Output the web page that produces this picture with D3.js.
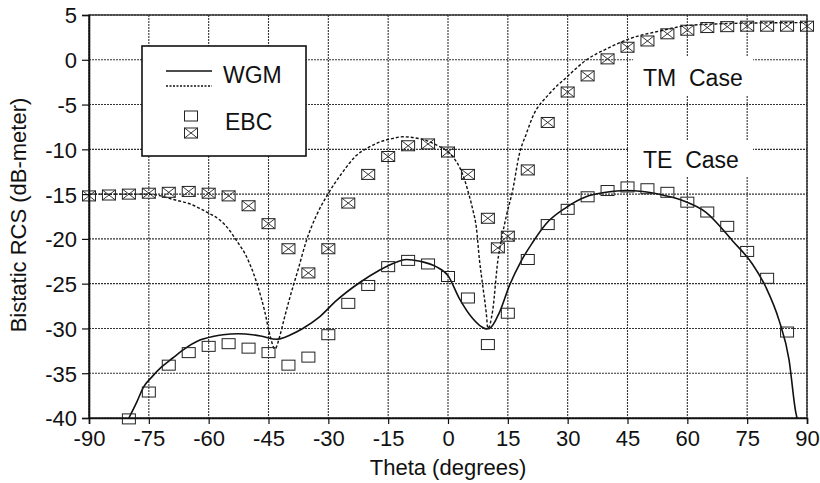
<!DOCTYPE html>
<html>
<head>
<meta charset="utf-8">
<script src="https://cdn.jsdelivr.net/npm/d3@7"></script>
<style>
  body { margin: 0; background: #fff; }
  svg { font-family: "Liberation Sans", Arial, sans-serif; }
</style>
</head>
<body>
<div id="chart"></div>
<script>
// tick values
const xTicks = [-90, -75, -60, -45, -30, -15, 0, 15, 30, 45, 60, 75, 90];
const yTicks = [5, 0, -5, -10, -15, -20, -25, -30, -35, -40];

// EBC, TM case (crossed boxes)
const ebcTmTheta = [-90, -85, -80, -75, -70, -65, -60, -55, -50, -45, -40, -35, -30, -25, -20, -15, -10, -5, 0, 5, 10, 12.5, 15, 20, 25, 30, 35, 40, 45, 50, 55, 60, 65, 70, 75, 80, 85, 90];
const ebcTmRcs = [-15.2, -15.1, -15.0, -14.9, -14.8, -14.7, -14.9, -15.2, -16.3, -18.3, -21.1, -23.8, -21.1, -16.0, -12.8, -10.8, -9.6, -9.4, -10.3, -12.8, -17.7, -21.0, -19.7, -12.3, -7.0, -3.6, -1.8, 0.1, 1.4, 2.1, 2.9, 3.3, 3.6, 3.7, 3.75, 3.75, 3.75, 3.75];

// EBC, TE case (open boxes)
const ebcTeTheta = [-80, -75, -70, -65, -60, -55, -50, -45, -40, -35, -30, -25, -20, -15, -10, -5, 0, 5, 10, 15, 20, 25, 30, 35, 40, 45, 50, 55, 60, 65, 70, 75, 80, 85];
const ebcTeRcs = [-40.1, -37.1, -34.1, -32.7, -32.0, -31.7, -32.2, -32.7, -34.1, -33.2, -30.7, -27.2, -25.2, -23.1, -22.4, -22.8, -24.2, -26.6, -31.8, -28.3, -22.3, -18.4, -16.7, -15.3, -14.6, -14.2, -14.4, -14.8, -15.9, -17.0, -18.6, -21.4, -24.4, -30.4];

// WGM, TE case (solid line)
const wgmTeTheta = [-80, -78, -76.4, -74, -71.8, -69, -66.4, -62.2, -59, -56.4, -52.6, -49, -46.4, -43, -41, -39.7, -36.4, -32.2, -28, -22.2, -17.2, -13, -10.5, -7, -3, 0, 2.9, 6.2, 8.7, 9.6, 10.4, 12.9, 15.4, 18.3, 21.2, 24.6, 29.6, 34.6, 39.6, 44.6, 48.8, 53.8, 58.8, 64.6, 71.3, 76.3, 79.7, 83, 85.5, 87.2, 87.5];
const wgmTeRcs = [-40, -38.2, -36.6, -35.3, -34.3, -33.3, -32.4, -31.3, -30.9, -30.7, -30.6, -30.7, -30.9, -31.2, -31.0, -30.75, -30.0, -28.7, -26.9, -24.9, -23.5, -22.6, -22.3, -22.5, -23.1, -24.1, -26.7, -28.9, -29.9, -30.05, -30.0, -28.2, -25.2, -22.5, -20.4, -18.3, -16.5, -15.3, -14.8, -14.6, -14.7, -15.1, -15.7, -17.0, -20.2, -22.8, -25.4, -29.1, -33.5, -39.4, -40];

// WGM, TM case (dotted line)
const wgmTmTheta = [-90, -80, -75.6, -72, -68.9, -64.7, -60.5, -57.2, -55, -53, -50.5, -47.6, -46, -44.5, -43.4, -42.2, -41, -39.8, -37.5, -35.5, -33, -30.1, -26.5, -23, -20, -17.2, -14, -11.3, -8.5, -5.5, -3, -0.5, 1.5, 2.9, 4.3, 5.4, 6.3, 7.1, 7.9, 8.7, 9.6, 10.0, 11.2, 12.5, 13.3, 14.7, 16.2, 17.9, 19.6, 21.2, 25.4, 29.6, 34.6, 40.4, 46.3, 53, 59.6, 67.1, 75.5, 90];
const wgmTmRcs = [-15.0, -15.0, -15.0, -15.2, -15.6, -16.1, -17.0, -17.9, -18.9, -20.2, -22.0, -25.4, -28.0, -31.0, -32.3, -30.9, -28.8, -26.8, -23.3, -20.2, -17.4, -15.0, -12.6, -10.7, -9.8, -9.2, -8.8, -8.6, -8.7, -9.0, -9.5, -10.1, -11.0, -12.0, -13.6, -15.3, -16.9, -18.7, -22.4, -25.2, -28.3, -30.0, -28.0, -22.4, -20.3, -17.3, -14.6, -10.5, -8.3, -6.4, -3.8, -2.0, -0.05, 1.36, 2.47, 3.2, 3.8, 4.0, 4.1, 4.15];

const margin = {top: 15, right: 13, bottom: 65, left: 89},
      width = 820 - margin.left - margin.right,
      height = 483 - margin.top - margin.bottom;

const svg = d3.select("#chart").append("svg")
    .attr("width", 820)
    .attr("height", 483)
    .append("g")
    .attr("transform", `translate(${margin.left},${margin.top})`);

const x = d3.scaleLinear().domain([-90, 90]).range([0, width]);
const y = d3.scaleLinear().domain([-40, 5]).range([height, 0]);

// Grid
svg.append("g")
    .selectAll("line")
    .data(xTicks)
    .enter().append("line")
    .attr("x1", d => x(d)).attr("x2", d => x(d))
    .attr("y1", 0).attr("y2", height)
    .attr("stroke", "#333").attr("stroke-width", 1.1).attr("stroke-dasharray", "2,1");

svg.append("g")
    .selectAll("line")
    .data(yTicks)
    .enter().append("line")
    .attr("x1", 0).attr("x2", width)
    .attr("y1", d => y(d)).attr("y2", d => y(d))
    .attr("stroke", "#333").attr("stroke-width", 1.1).attr("stroke-dasharray", "2,1");

// Frame
svg.append("rect")
    .attr("width", width)
    .attr("height", height)
    .attr("fill", "none")
    .attr("stroke", "#222")
    .attr("stroke-width", 1.3);

// Case labels, with white boxes that break the grid
function boxedLabel(txt, tx, ty, bx, by, bw, bh) {
    svg.append("rect")
        .attr("x", bx - margin.left).attr("y", by - margin.top)
        .attr("width", bw).attr("height", bh)
        .attr("fill", "#fff");
    svg.append("text")
        .attr("x", tx - margin.left).attr("y", ty - margin.top)
        .attr("font-size", 23)
        .attr("fill", "#111")
        .style("white-space", "pre")
        .text(txt);
}
boxedLabel("TM  Case", 643, 86, 633, 57, 120, 39);
boxedLabel("TE  Case", 643, 168, 628, 140, 125, 37);

// Curves
const line = d3.line()
    .x(d => x(d[0]))
    .y(d => y(d[1]))
    .curve(d3.curveMonotoneX);

svg.append("path")
    .datum(d3.zip(wgmTeTheta, wgmTeRcs))
    .attr("d", line)
    .attr("fill", "none")
    .attr("stroke", "#111")
    .attr("stroke-width", 1.6);

svg.append("path")
    .datum(d3.zip(wgmTmTheta, wgmTmRcs))
    .attr("d", line)
    .attr("fill", "none")
    .attr("stroke", "#111")
    .attr("stroke-width", 1.4)
    .attr("stroke-dasharray", "3,2");

// Markers
const mw = 13, mh = 10;

svg.append("g")
    .selectAll("rect")
    .data(d3.zip(ebcTeTheta, ebcTeRcs))
    .enter().append("rect")
    .attr("x", d => x(d[0]) - mw / 2)
    .attr("y", d => y(d[1]) - mh / 2)
    .attr("width", mw).attr("height", mh)
    .attr("fill", "none").attr("stroke", "#222").attr("stroke-width", 1);

const crossed = svg.append("g")
    .selectAll("g")
    .data(d3.zip(ebcTmTheta, ebcTmRcs))
    .enter().append("g")
    .attr("transform", d => `translate(${x(d[0])},${y(d[1])})`);

crossed.append("rect")
    .attr("x", -mw / 2).attr("y", -mh / 2)
    .attr("width", mw).attr("height", mh)
    .attr("fill", "none").attr("stroke", "#222").attr("stroke-width", 1);
crossed.append("path")
    .attr("d", `M${-mw / 2},${-mh / 2}L${mw / 2},${mh / 2}M${-mw / 2},${mh / 2}L${mw / 2},${-mh / 2}`)
    .attr("stroke", "#222").attr("stroke-width", 0.9);

// Legend
const legend = svg.append("g")
    .attr("transform", `translate(${142 - margin.left},${46 - margin.top})`);

legend.append("rect")
    .attr("width", 164).attr("height", 110)
    .attr("fill", "#fff").attr("stroke", "#111").attr("stroke-width", 1.6);

legend.append("line")
    .attr("x1", 24).attr("x2", 70).attr("y1", 25).attr("y2", 25)
    .attr("stroke", "#111").attr("stroke-width", 1.6);
legend.append("line")
    .attr("x1", 24).attr("x2", 70).attr("y1", 40).attr("y2", 40)
    .attr("stroke", "#111").attr("stroke-width", 1.4).attr("stroke-dasharray", "2,1.5");
legend.append("text")
    .attr("x", 81).attr("y", 37)
    .attr("font-size", 23).attr("fill", "#111")
    .text("WGM");

legend.append("rect")
    .attr("x", 49 - mw / 2).attr("y", 70 - mh / 2)
    .attr("width", mw).attr("height", mh)
    .attr("fill", "none").attr("stroke", "#222");
legend.append("rect")
    .attr("x", 49 - mw / 2).attr("y", 87 - mh / 2)
    .attr("width", mw).attr("height", mh)
    .attr("fill", "none").attr("stroke", "#222");
legend.append("path")
    .attr("d", `M${49 - mw / 2},${87 - mh / 2}L${49 + mw / 2},${87 + mh / 2}M${49 - mw / 2},${87 + mh / 2}L${49 + mw / 2},${87 - mh / 2}`)
    .attr("stroke", "#222").attr("stroke-width", 0.9);
legend.append("text")
    .attr("x", 83).attr("y", 84)
    .attr("font-size", 23).attr("fill", "#111")
    .text("EBC");

// X axis
const xAxis = svg.append("g")
    .attr("transform", `translate(0,${height})`)
    .call(d3.axisBottom(x).tickValues(xTicks).tickSize(6).tickFormat(d => String(d)));
xAxis.selectAll("text").attr("font-size", 22).attr("fill", "#111").attr("dy", "0.85em");

// Y axis
const yAxis = svg.append("g")
    .call(d3.axisLeft(y).tickValues(yTicks).tickSize(7).tickPadding(5).tickFormat(d => String(d)));
yAxis.selectAll("text").attr("font-size", 22).attr("fill", "#111").attr("dy", "0.36em");

svg.selectAll(".domain").attr("stroke", "#111").attr("stroke-width", 1.6);
svg.selectAll(".tick line").attr("stroke", "#111").attr("stroke-width", 1.2);

// Axis titles
svg.append("text")
    .attr("x", width / 2)
    .attr("y", height + 57)
    .attr("text-anchor", "middle")
    .attr("font-size", 22)
    .attr("fill", "#111")
    .text("Theta (degrees)");

svg.append("text")
    .attr("transform", `translate(${26 - margin.left},${215 - margin.top}) rotate(-90)`)
    .attr("text-anchor", "middle")
    .attr("font-size", 22)
    .attr("fill", "#111")
    .text("Bistatic RCS (dB-meter)");
</script>
</body>
</html>
